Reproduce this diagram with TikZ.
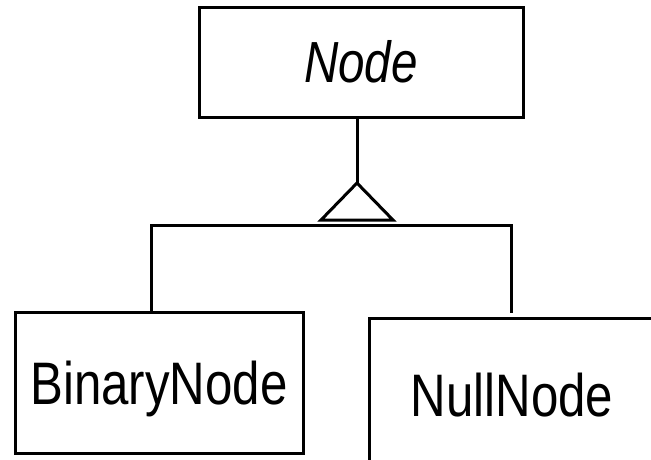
\documentclass[tikz,border=0pt]{standalone}
\usepackage{fontspec}
\newfontfamily\umlfont{Liberation Sans}[FakeStretch=0.82]
\usetikzlibrary{calc}

\begin{document}
\begin{tikzpicture}[x=1pt, y=-1pt,
  cls/.style={draw, line width=3pt, inner sep=0pt, fill=white,
              align=center, text depth=0pt},
  clsfont/.style={font=\umlfont\fontsize{60}{66}\selectfont, text height=43pt},
  conn/.style={line width=3pt}
]
\fill[white] (0,0) rectangle (651,459);
\useasboundingbox (0,0) rectangle (651,459);
\clip (0,0) rectangle (651,459);

%% Abstract superclass
\node[cls, minimum width=324pt, minimum height=110pt, text height=41pt,
      font=\umlfont\fontsize{58}{64}\selectfont\itshape] (base) at (361,62) {Node};

%% Subclasses
\node[cls, clsfont, minimum width=288pt, minimum height=141pt] (bin)  at (159,382.5) {BinaryNode};
\node[cls, clsfont, minimum width=286pt, minimum height=154pt] (null) at (512,395)   {NullNode};

%% Generalization triangle
\coordinate (apex) at (357,183);
\coordinate (bar)  at (357,225);
\coordinate (nullend) at (511,313);
\draw[conn] (apex |- base.south) -- (apex);
\draw[conn] (apex) -- ++(-36,37) -- ++(72,0) -- cycle;

%% Branches to subclasses
\draw[conn] (bin.north -| 151,0) |- (nullend |- bar) -- (nullend);
\end{tikzpicture}
\end{document}
